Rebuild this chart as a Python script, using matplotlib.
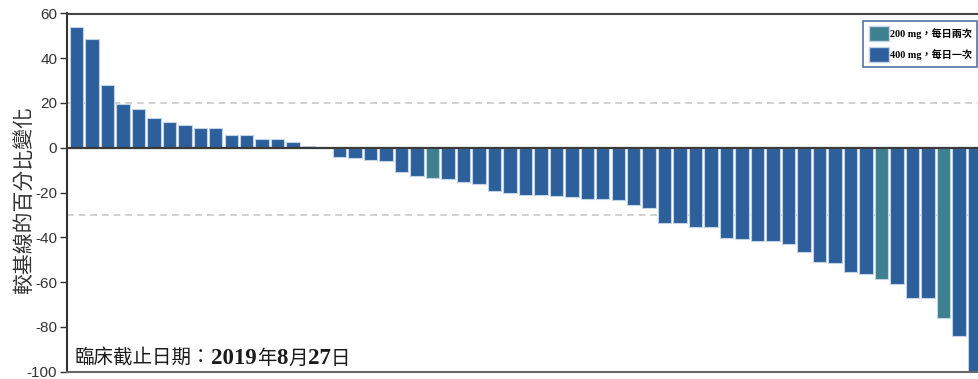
import matplotlib
matplotlib.use("Agg")
import matplotlib.pyplot as plt
from matplotlib.patches import Patch
from matplotlib.font_manager import FontProperties

# Percent change from baseline, one bar per patient (sorted)
pct_change = [
    54, 48.5, 28, 19.5, 17.5, 13.5, 11.5, 10, 9, 9,
    5.5, 5.5, 4, 4, 2.5, 0.7, 0, -4, -4.5, -5.5,
    -6, -11, -12.5, -13.5, -14, -15.5, -16, -19.5, -20, -21,
    -21, -21.5, -22, -23, -23, -23.5, -25.5, -27, -33.5, -33.5,
    -35.5, -35.5, -40.5, -41, -41.5, -41.5, -43, -46.5, -51, -51.5,
    -55.5, -56.5, -58.5, -61, -67, -67, -76, -84, -100,
]
# Dose group per bar: "bid" = 200 mg twice daily, "qd" = 400 mg once daily
dose_group = ["qd"] * len(pct_change)
for i in (23, 52, 56):
    dose_group[i] = "bid"

group_colors = {"bid": "#3d8090", "qd": "#2d5f9a"}
legend_labels = {"bid": "200 mg，每日兩次", "qd": "400 mg，每日一次"}
y_ticks = [60, 40, 20, 0, -20, -40, -60, -80, -100]
ref_lines = [20, -30]
y_label = "較基線的百分比變化"
cutoff_parts = [("臨床截止日期：", "cjk"), ("2019", "num"), ("年", "cjk"),
                ("8", "num"), ("月", "cjk"), ("27", "num"), ("日", "cjk")]

W, H = 979, 379
fig = plt.figure(figsize=(W / 100, H / 100), dpi=100)
ax = fig.add_axes([67 / W, (H - 371.5) / H, 911 / W, (371.5 - 13.5) / H])

x = list(range(len(pct_change)))
colors = [group_colors[g] for g in dose_group]
ax.bar(x, pct_change, width=0.87, color=colors, edgecolor="#c3d3e6",
       linewidth=0.8, zorder=2)

for v in ref_lines:
    ax.axhline(v, color="#c8c8c8", lw=1.2, ls=(0, (4, 3)), zorder=1)
ax.axhline(0, color="#3a3a3a", lw=1.6, zorder=3)

ax.set_xlim(-0.61, len(pct_change) - 1 + 0.24)
ax.set_ylim(-100, 60)
ax.set_yticks(y_ticks)
ax.set_yticklabels([str(t) for t in y_ticks], fontfamily="Liberation Sans",
                   fontsize=11, color="#333333")
ax.tick_params(axis="y", length=5, width=1, color="#333333", pad=2)
ax.set_xticks([])

ax.spines["right"].set_visible(False)
ax.spines["left"].set_color("#333333")
ax.spines["left"].set_linewidth(1.5)
ax.spines["top"].set_color("#444444")
ax.spines["top"].set_linewidth(1.5)
ax.spines["bottom"].set_color("#666666")
ax.spines["bottom"].set_linewidth(1.5)

ax.set_ylabel(y_label, fontfamily="Noto Sans CJK TC", fontsize=15,
              color="#333333")
ax.yaxis.set_label_coords(-0.034, 0.479)

handles = [Patch(facecolor=group_colors[k], edgecolor="#c3d3e6",
                 label=legend_labels[k]) for k in ("bid", "qd")]
leg = ax.legend(handles=handles, loc="upper right",
                bbox_to_anchor=((977 - 67) / 911, (371.5 - 21) / 358),
                prop=FontProperties(family=["Liberation Serif", "Noto Sans CJK TC"],
                                    weight="bold", size=7.3),
                frameon=True, fancybox=False, handlelength=2.0,
                handleheight=1.9, handletextpad=0.1, labelspacing=0.6,
                borderpad=0.5, borderaxespad=0)
leg.get_frame().set_edgecolor("#2b4f8a")
leg.get_frame().set_linewidth(1.2)

# Data cutoff note, mixing CJK and serif numerals on one baseline
fonts = {
    "cjk": FontProperties(family="Noto Sans CJK TC", size=14),
    "num": FontProperties(family="Liberation Serif", weight="bold", size=16.5),
}
renderer = fig.canvas.get_renderer()
xpos = 75
ybase = (H - 364) / H
for s, kind in cutoff_parts:
    t = fig.text(xpos / W, ybase, s, fontproperties=fonts[kind],
                 color="#1a1a1a", va="baseline", ha="left")
    xpos += t.get_window_extent(renderer).width

fig.savefig("out.png", dpi=100)
